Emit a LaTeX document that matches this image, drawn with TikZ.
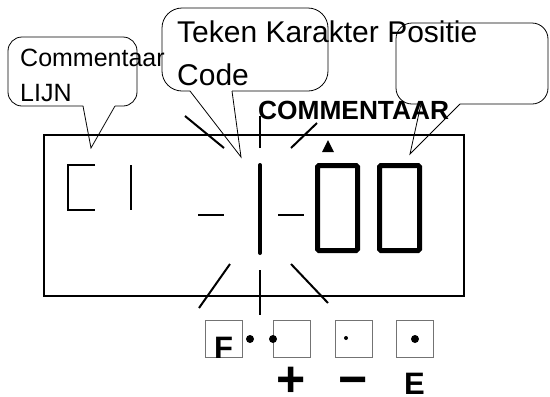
\documentclass[tikz,border=0pt]{standalone}
\usepackage{fontspec}
\setmainfont{Liberation Sans}
\begin{document}
\begin{tikzpicture}[x=1pt,y=-1pt,
  callout/.style={draw,line width=0.8pt},
  ray/.style={line width=2pt},
  seg/.style={line width=1.6pt},
  btn/.style={draw=black!55,line width=1pt},
  lbl/.style={inner sep=0pt,anchor=base west},
  txtA/.style={lbl,font=\fontsize{25}{30}\selectfont},
  txtB/.style={lbl,font=\fontsize{30}{36}\selectfont},
  bold/.style={lbl,font=\fontsize{26.3}{30}\selectfont\bfseries},
  key/.style={lbl,text depth=0pt,font=\fontsize{31}{36}\selectfont\bfseries},
  big/.style={inner sep=0pt,anchor=base,text depth=0pt,font=\fontsize{50}{56}\selectfont\bfseries}]
\useasboundingbox (0,0) rectangle (550,397);

% display
\draw[line width=2pt] (44,135) rectangle (464,296);

% segments
\draw[seg] (95,165) -- (68,165) -- (68,210) -- (95,210);
\draw[seg] (131,165) -- (131,210);
\draw[seg] (198,215) -- (224,215);
\draw[seg] (278,215) -- (304,215);
\draw[line width=4pt,line cap=round] (260,165) -- (260,253);
\draw[line width=5pt,rounded corners=1.5pt] (317.5,165.5) rectangle (357.5,250.5);
\draw[line width=5pt,rounded corners=1.5pt] (379.5,165.5) rectangle (419.5,250.5);
\fill (322,152) -- (334,152) -- (328,140) -- cycle;

% rays
\draw[ray] (185,116) -- (224,148);
\draw[ray] (260,116) -- (260,148);
\draw[ray] (317,123) -- (291,148);
\draw[ray] (230,264) -- (199,308);
\draw[ray] (260,270) -- (260,315);
\draw[ray] (291,264) -- (328,303);

% callouts
\coordinate (tipA) at (91,148);
\coordinate (tipB) at (241,157);
\coordinate (tipC) at (410,154);
\draw[callout,rounded corners=14pt] (83,106) -- (8,106) -- (8,37) -- (137,37) -- (137,106) -- (115,106);
\draw[callout] (115,106) -- (tipA) -- (83,106);
\draw[callout,rounded corners=20pt] (190,91) -- (162,91) -- (162,8) -- (328,8) -- (328,91) -- (232,91);
\draw[callout] (232,91) -- (tipB) -- (190,91);
\draw[callout,rounded corners=16pt] (421,104) -- (396,104) -- (396,23) -- (548,23) -- (548,104) -- (460,104);
\draw[callout] (460,104) -- (tipC) -- (421,104);

% texts
\node[txtA] (t1) at (20,66) {Commentaar};
\node[txtA] (t2) at (20,101) {LIJN};
\node[txtB] (t3) at (177,42) {Teken Karakter Positie};
\node[txtB] (t4) at (177,85) {Code};
\node[bold] (t5) at (258,119) {COMMENTAAR};

% buttons
\draw[btn] (205,320) rectangle (242,357);
\draw[btn] (273,320) rectangle (310,357);
\draw[btn] (335,320) rectangle (372,357);
\draw[btn] (396,320) rectangle (433,357);
\node[key] (kF) at (214,358) {F};
\fill (250,339) circle (4);
\fill (273,339) circle (4);
\fill (346,338) circle (2);
\fill (415,339) circle (4);
\node[big] (kp) at (291.5,396) {+};
\node[big] (km) at (353,396) {−};
\node[key] (kE) at (404,394) {E};
\end{tikzpicture}
\end{document}
